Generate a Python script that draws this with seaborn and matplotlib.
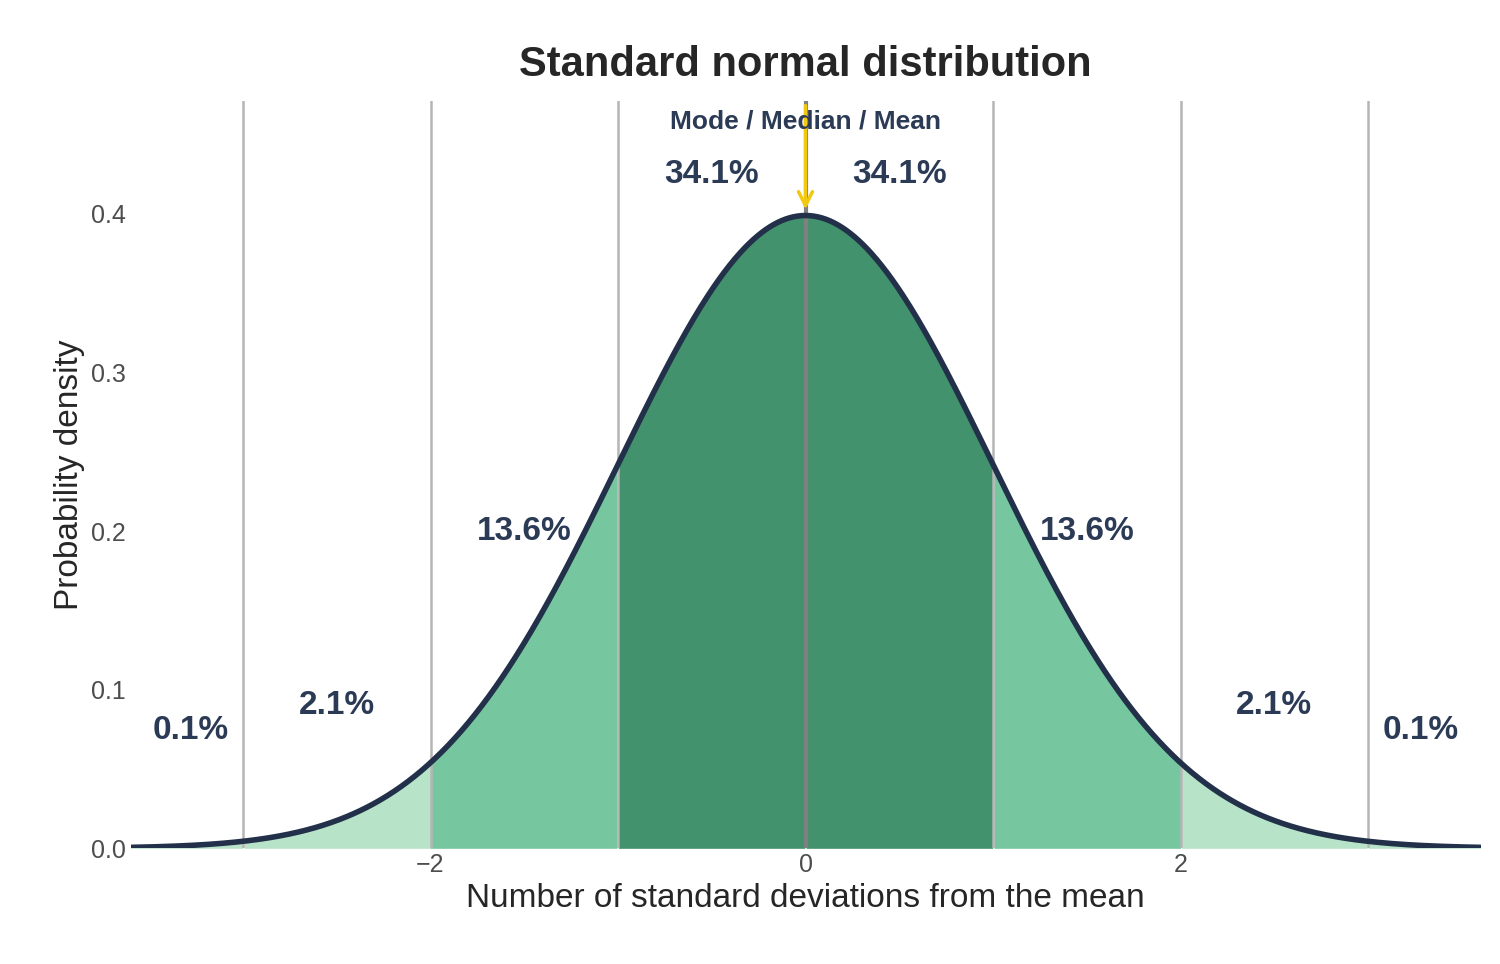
import numpy as np
import matplotlib
matplotlib.use("Agg")
import matplotlib.pyplot as plt
import seaborn as sns

# distribution parameters
mu = 0.0
sigma = 1.0

# band edges (in sd) and their shares
band_edges = [-3.6, -3, -2, -1, 0, 1, 2, 3, 3.6]
band_colors = ["#B7E4C9", "#B7E4C9", "#76C6A0", "#43926E",
               "#43926E", "#76C6A0", "#B7E4C9", "#B7E4C9"]
pct_labels = ["0.1%", "2.1%", "13.6%", "34.1%", "34.1%", "13.6%", "2.1%", "0.1%"]
pct_x = [-3.28, -2.5, -1.5, -0.5, 0.5, 1.5, 2.5, 3.28]
pct_y = [0.074, 0.09, 0.2, 0.425, 0.425, 0.2, 0.09, 0.074]
sd_lines = [-3, -2, -1, 0, 1, 2, 3]

sns.set_theme(style="white")
plt.rcParams['font.family'] = ['Liberation Sans', 'DejaVu Sans']

x = np.linspace(-3.6, 3.6, 1000)
pdf = np.exp(-0.5 * ((x - mu) / sigma) ** 2) / (sigma * np.sqrt(2 * np.pi))

fig, ax = plt.subplots(figsize=(15, 9.64), dpi=100)
fig.subplots_adjust(left=0.087, right=0.987, top=0.895, bottom=0.12)

for i in range(len(band_colors)):
    m = (x >= band_edges[i]) & (x <= band_edges[i + 1])
    ax.fill_between(x[m], 0, pdf[m], color=band_colors[i], linewidth=0)

for v in sd_lines:
    if v == 0:
        ax.axvline(v, color="#808080", lw=3, zorder=1.5)
    else:
        ax.axvline(v, color="#B5B5B5", lw=1.8, zorder=1.5)

sns.lineplot(x=x, y=pdf, color="#22304A", lw=4, ax=ax, zorder=3)

txt = "#2B3A55"
for lab, px_, py_ in zip(pct_labels, pct_x, pct_y):
    ax.text(px_, py_, lab, ha="center", va="center", fontsize=24,
            fontweight="bold", color=txt, zorder=4)

ax.annotate("", xy=(0, 0.401), xytext=(0, 0.47),
            arrowprops=dict(arrowstyle="->", color="#F2C811", lw=2.5,
                            mutation_scale=25), zorder=5)
ax.text(0, 0.458, "Mode / Median / Mean", ha="center", va="center",
        fontsize=19, fontweight="bold", color=txt, zorder=6)

ax.set_xlim(-3.6, 3.6)
ax.set_ylim(0, 0.471)
ax.set_xticks([-2, 0, 2])
ax.set_yticks([0.0, 0.1, 0.2, 0.3, 0.4])
ax.set_yticklabels(["0.0", "0.1", "0.2", "0.3", "0.4"])
ax.tick_params(labelsize=18, labelcolor="#4D4D4D", length=0)
ax.set_xlabel("Number of standard deviations from the mean", fontsize=24)
ax.set_ylabel("Probability density", fontsize=24)
ax.set_title("Standard normal distribution", fontsize=30, fontweight="bold", pad=18)
sns.despine(left=True, bottom=True)

fig.savefig("out.png", dpi=100)
